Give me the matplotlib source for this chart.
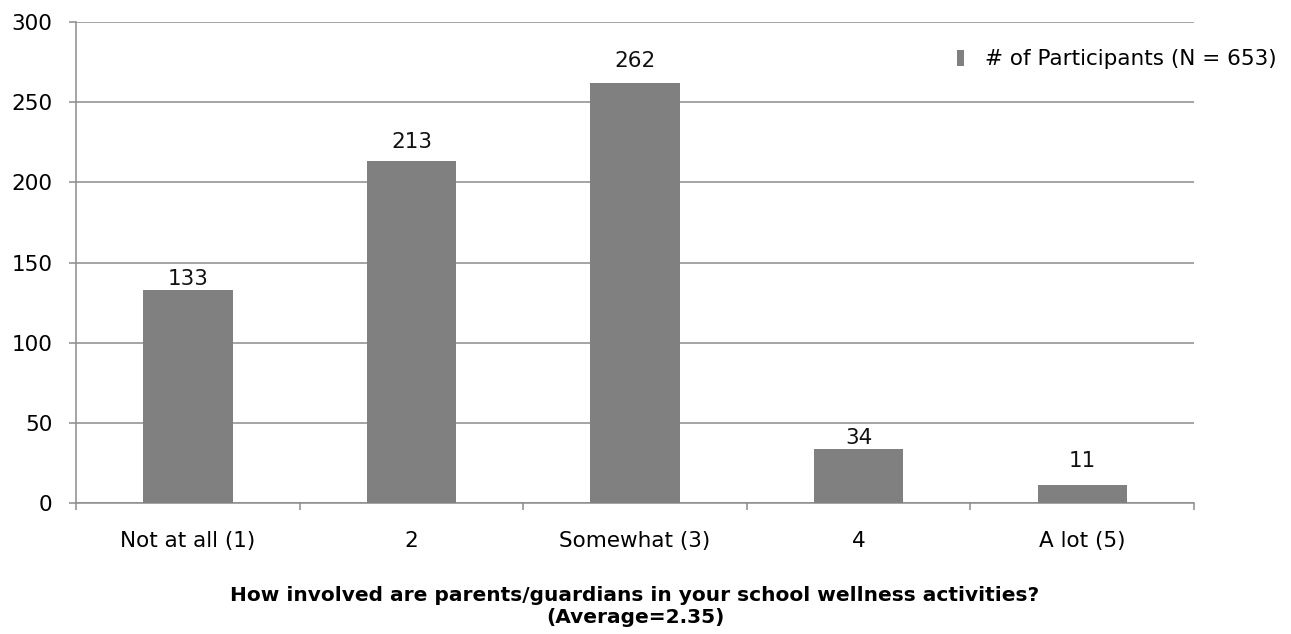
import matplotlib.pyplot as plt
import numpy as np

categories = ['Not at all (1)', '2', 'Somewhat (3)', '4', 'A lot (5)']
counts = [133, 213, 262, 34, 11]
series_label = '# of Participants (N = 653)'
x_title = 'How involved are parents/guardians in your school wellness activities?\n(Average=2.35)'

# gap (points) between bar top and its value label; short ones stay clear of the grid
label_gap = [3.5, 10, 11.5, 3.5, 13]

plt.rcParams['font.family'] = ['DejaVu Sans']
fig = plt.figure(figsize=(12.91, 6.34), dpi=100)
ax = fig.add_axes([0.0589, 0.2066, 0.866, 0.7587])

x = np.arange(len(categories))
bars = ax.bar(x, counts, width=0.4, color='#808080', label=series_label, zorder=3)

for b, v, g in zip(bars, counts, label_gap):
    ax.annotate(str(v), (b.get_x() + b.get_width() / 2, v), xytext=(0, g),
                textcoords='offset points', ha='center', va='baseline',
                fontsize=15.5, color='#111111')

ax.set_xlim(-0.5, len(categories) - 0.5)
ax.set_ylim(0, 300)
ax.set_yticks(range(0, 301, 50))
ax.yaxis.grid(True, color='#8c8c8c', linewidth=1.1, zorder=0)
ax.set_xticks(x)
ax.set_xticklabels(categories, fontsize=15.5)
# category boundary ticks
ax.set_xticks(np.arange(-0.5, len(categories), 1), minor=True)
ax.tick_params(axis='x', which='major', length=0, pad=20)
ax.tick_params(axis='x', which='minor', length=5, color='#8c8c8c', width=1.1)
ax.tick_params(axis='y', length=5, color='#8c8c8c', width=1.1, labelsize=15.5, pad=12)

for s in ['top', 'right']:
    ax.spines[s].set_visible(False)
for s in ['left', 'bottom']:
    ax.spines[s].set_color('#8c8c8c')
    ax.spines[s].set_linewidth(1.1)

ax.set_xlabel(x_title, fontsize=14.5, fontweight='bold', labelpad=25, linespacing=1.2)

leg = fig.legend(loc='upper left', bbox_to_anchor=(938 / 1291, 1 - 30 / 634), frameon=False,
                 fontsize=15.5, handlelength=0.3, handleheight=0.75, handletextpad=1.0)

fig.savefig('out.png', dpi=100)
